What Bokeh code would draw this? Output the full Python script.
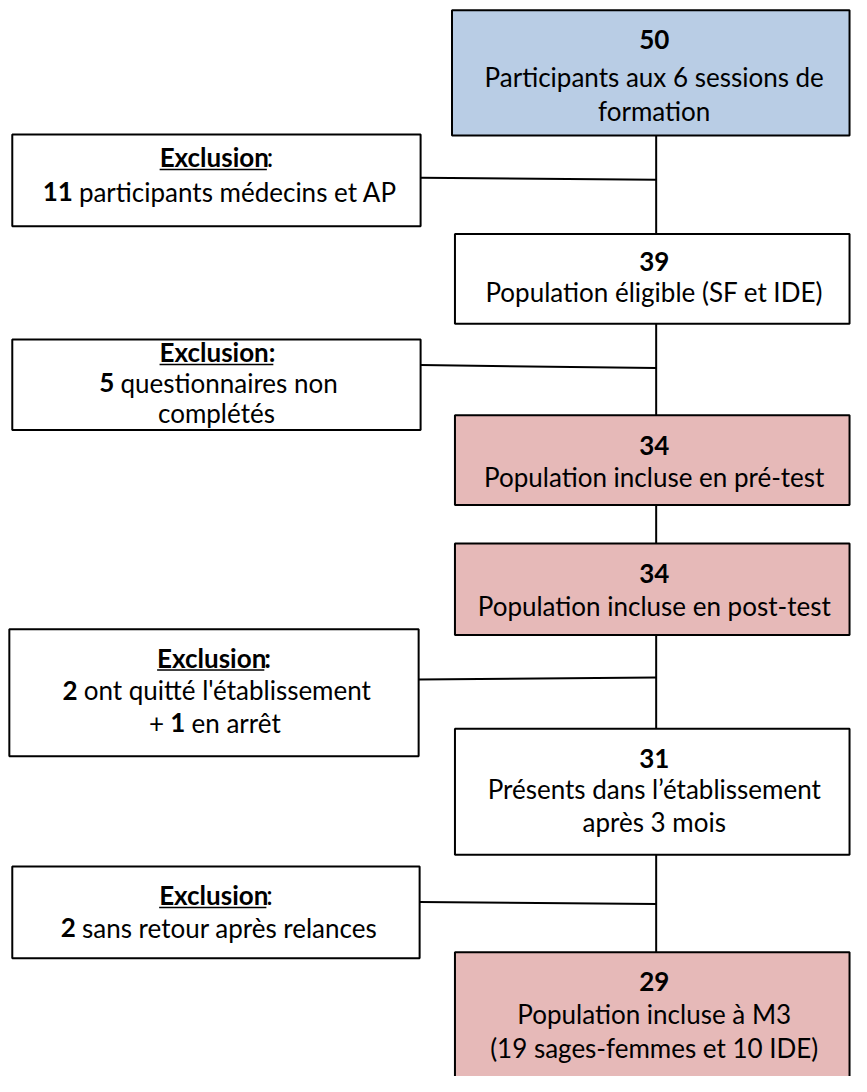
import re
import glob
import subprocess

from bokeh.plotting import figure
from bokeh.models import Range1d, ColumnDataSource
from bokeh.core.properties import value
from bokeh.embed import file_html
from bokeh.resources import INLINE

# ---------------- data ----------------
stage_counts = [50, 39, 34, 34, 31, 29]
stage_labels = [
    ["Participants aux 6 sessions de", "formation"],
    ["Population éligible (SF et IDE)"],
    ["Population incluse en pré-test"],
    ["Population incluse en post-test"],
    ["Présents dans l’établissement", "après 3 mois"],
    ["Population incluse à M3", "(19 sages-femmes et 10 IDE)"],
]
stage_kind = ["start", "neutral", "included", "included", "neutral", "included"]

# ** = bold, __ = underline
exclusion_titles = [
    "__**Exclusion**__:",
    "__**Exclusion:**__",
    "__**Exclusion**__**:**",
    "__**Exclusion**__:",
]
exclusion_lines = [
    ["**11** participants médecins et AP"],
    ["**5** questionnaires non", "complétés"],
    ["**2** ont quitté l'établissement", "+ **1** en arrêt"],
    ["**2** sans retour après relances"],
]

# ---------------- layout / style ----------------
FONT = "Lato"
FS = 26.0
KIND_FILL = {"start": "#B9CDE5", "neutral": "#FFFFFF", "included": "#E6B9B8"}

STAGE_LEFT = [460, 463, 463, 463, 463, 463]
STAGE_TOP = [10, 237, 421, 551, 739, 966]
STAGE_BOTTOM = [137, 328, 512, 644, 867, 1110]
STAGE_RIGHT = 865
STAGE_CX = 666
STAGE_LINE_Y = [[41, 79, 113], [266, 297], [453, 485], [583, 616],
                [770, 801, 835], [997, 1030, 1064]]

EXCL_LEFT = [12, 12, 9, 12]
EXCL_RIGHT = [428, 428, 426, 427]
EXCL_TOP = [136, 344, 638, 879]
EXCL_BOTTOM = [229, 436, 767, 972]
EXCL_LINE_Y = [[160, 195], [358, 389, 420], [668, 701, 734], [909, 942]]
EXCL_LINK_Y = [(180, 182), (370, 373), (689, 687), (915, 917)]
CONNECT_X = 668

ANCHOR_SHIFT = -1.0          # text anchor relative to cap centre (empirical)
UNDERLINE_SHIFT = 11.5       # underline relative to cap centre


# ---------------- text measurement ----------------
def find_font_file(family, bold):
    style = "bold" if bold else "regular"
    try:
        out = subprocess.run(["fc-match", "-f", "%{file}", f"{family}:{style}"],
                             capture_output=True, text=True, timeout=5).stdout.strip()
        if out and family.lower() in out.lower():
            return out
    except Exception:
        pass
    name = f"{family}-{'Bold' if bold else 'Regular'}.ttf"
    for root in ["/usr/share/fonts", "/usr/local/share/fonts"]:
        hits = glob.glob(f"{root}/**/{name}", recursive=True)
        if hits:
            return hits[0]
    return None


_fonts = {}
try:
    from PIL import ImageFont
    for b in (False, True):
        path = find_font_file(FONT, b)
        if path:
            _fonts[b] = ImageFont.truetype(path, 100)
except Exception:
    _fonts = {}


def text_width(txt, bold, size):
    f = _fonts.get(bold)
    if f is not None:
        try:
            return f.getlength(txt) * size / 100.0
        except Exception:
            pass
    return len(txt) * size * (0.45 if bold else 0.42)


def parse(markup):
    segs = []
    bold = under = False
    for tok in re.split(r"(\*\*|__)", markup):
        if tok == "**":
            bold = not bold
        elif tok == "__":
            under = not under
        elif tok:
            segs.append((tok, bold, under))
    return segs


# ---------------- figure ----------------
W, H = 851, 1076
p = figure(width=W, height=H, x_range=Range1d(0, 867), y_range=Range1d(1092, 0),
           output_backend="svg", toolbar_location=None, min_border=0,
           background_fill_color="white", border_fill_color="white")
p.outline_line_color = None
p.axis.visible = False
p.grid.visible = False

# connectors
vx0, vy0, vx1, vy1 = [], [], [], []
for i in range(len(stage_counts) - 1):
    vx0.append(CONNECT_X); vy0.append(STAGE_BOTTOM[i] - 4)
    vx1.append(CONNECT_X); vy1.append(STAGE_TOP[i + 1])
for j in range(len(exclusion_titles)):
    vx0.append(EXCL_RIGHT[j]); vy0.append(EXCL_LINK_Y[j][0])
    vx1.append(CONNECT_X); vy1.append(EXCL_LINK_Y[j][1])
p.segment(x0=vx0, y0=vy0, x1=vx1, y1=vy1, line_color="black", line_width=2)

# stage boxes
p.quad(left=STAGE_LEFT, right=[STAGE_RIGHT] * len(stage_counts),
       top=STAGE_TOP, bottom=STAGE_BOTTOM,
       fill_color=[KIND_FILL[k] for k in stage_kind],
       line_color="black", line_width=2)

# exclusion boxes
p.quad(left=EXCL_LEFT, right=EXCL_RIGHT, top=EXCL_TOP, bottom=EXCL_BOTTOM,
       fill_color="white", line_color="black", line_width=2)

# text items
items = {True: {"x": [], "y": [], "text": [], "align": []},
         False: {"x": [], "y": [], "text": [], "align": []}}
ul = {"x0": [], "x1": [], "y": []}


def add_line(markup, cx, cy):
    segs = parse(markup)
    ay = cy + ANCHOR_SHIFT
    if len(segs) == 1 and not segs[0][2]:
        t, b, _ = segs[0]
        d = items[b]
        d["x"].append(cx); d["y"].append(ay); d["text"].append(t); d["align"].append("center")
        return
    widths = [text_width(t, b, FS) for t, b, _ in segs]
    x = cx - sum(widths) / 2.0
    for (t, b, u), w in zip(segs, widths):
        lead = len(t) - len(t.lstrip(" "))
        xs = x + text_width(" " * lead, b, FS) if lead else x
        d = items[b]
        d["x"].append(xs); d["y"].append(ay); d["text"].append(t.strip(" ")); d["align"].append("left")
        if u:
            ul["x0"].append(x); ul["x1"].append(x + w); ul["y"].append(cy + UNDERLINE_SHIFT)
        x += w


for i, n in enumerate(stage_counts):
    ys = STAGE_LINE_Y[i]
    add_line(f"**{n}**", STAGE_CX, ys[0])
    for k, lab in enumerate(stage_labels[i]):
        add_line(lab, STAGE_CX, ys[k + 1])

for j, title in enumerate(exclusion_titles):
    cx = (EXCL_LEFT[j] + EXCL_RIGHT[j]) / 2.0
    ys = EXCL_LINE_Y[j]
    add_line(title, cx, ys[0])
    for k, lab in enumerate(exclusion_lines[j]):
        add_line(lab, cx, ys[k + 1])

for b in (False, True):
    src = ColumnDataSource(items[b])
    p.text(x="x", y="y", text="text", source=src, text_align="align",
           text_baseline="alphabetic", text_font=value(FONT),
           text_font_style="bold" if b else "normal",
           text_font_size=f"{FS:.1f}px", text_color="black")

p.segment(x0=ul["x0"], y0=ul["y"], x1=ul["x1"], y1=ul["y"],
          line_color="black", line_width=1.5)

open("out.html", "w").write(file_html(p, INLINE))
